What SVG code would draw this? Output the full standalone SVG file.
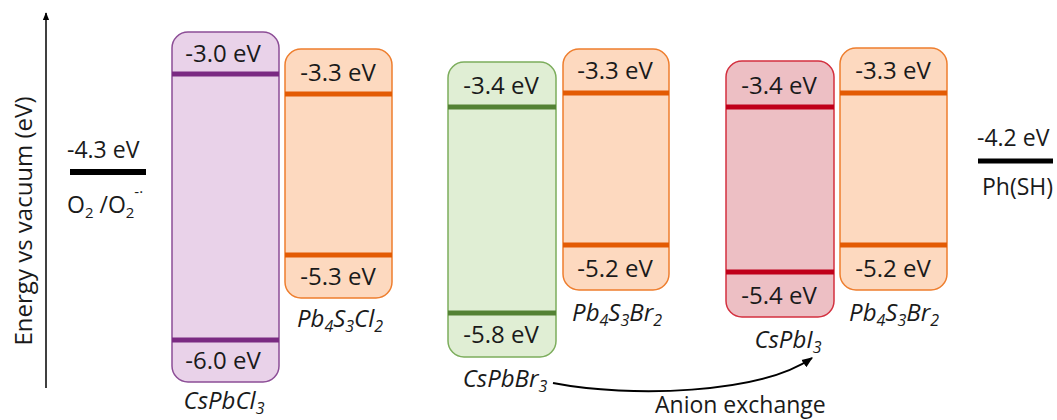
<svg xmlns="http://www.w3.org/2000/svg" width="1057" height="420" viewBox="0 0 1057 420">
  <defs>
    <marker id="arrowUp" viewBox="0 0 10 10" refX="9" refY="5" markerWidth="8" markerHeight="8" orient="auto" markerUnits="userSpaceOnUse">
      <path d="M0,1 L10,5 L0,9 Z" fill="#000"/>
    </marker>
    <marker id="arrowCurve" viewBox="0 0 10 10" refX="9" refY="5" markerWidth="11" markerHeight="11" orient="auto" markerUnits="userSpaceOnUse">
      <path d="M0,1 L10,5 L0,9 Z" fill="#000"/>
    </marker>
  </defs>
  <style>
    text { font-family: "Open Sans", "Liberation Sans", sans-serif; fill: #1a1a1a; }
    .ev { font-size: 24px; text-anchor: middle; }
    .name { font-size: 24px; font-style: italic; text-anchor: middle; }
    .ref { font-size: 23px; }
    .purple rect.box { fill: #e9d2e9; stroke: #8c4d96; }
    .orange rect.box { fill: #fdd9bf; stroke: #ee7e2e; }
    .green rect.box { fill: #e0eed4; stroke: #7cad5c; }
    .red rect.box { fill: #edbfc4; stroke: #d3303f; }
    rect.box { stroke-width: 1.5; }
    .purple line { stroke: #7a2a82; }
    .orange line { stroke: #e35b04; }
    .green line { stroke: #548235; }
    .red line { stroke: #c0001a; }
    .band line { stroke-width: 5; }
  </style>

  <!-- energy axis -->
  <g id="axis">
    <line x1="46" y1="388" x2="46" y2="13" stroke="#000" stroke-width="1.5" marker-end="url(#arrowUp)"/>
    <text transform="translate(32,221) rotate(-90)" text-anchor="middle" font-size="24">Energy vs vacuum (eV)</text>
  </g>

  <!-- O2 / O2- reference level -->
  <g id="o2-level">
    <text class="ref" x="67" y="158" font-size="24">-4.3 eV</text>
    <line x1="70" y1="172" x2="146" y2="172" stroke="#000" stroke-width="6"/>
    <text class="ref" x="67" y="213">O<tspan font-size="15" dy="5">2</tspan><tspan dy="-5"> /O</tspan><tspan font-size="15" dy="5">2</tspan><tspan font-size="15" dy="-21">-·</tspan></text>
  </g>

  <!-- CsPbCl3 -->
  <g id="cspbcl3" class="band purple">
    <rect class="box" x="172" y="32" width="107" height="350" rx="16"/>
    <line x1="172" y1="74" x2="279" y2="74"/>
    <line x1="172" y1="340" x2="279" y2="340"/>
    <text class="ev" x="223" y="62">-3.0 eV</text>
    <text class="ev" x="223" y="369">-6.0 eV</text>
    <text class="name" x="224" y="409">CsPbCl<tspan font-size="16" dy="5">3</tspan></text>
  </g>

  <!-- Pb4S3Cl2 -->
  <g id="pb4s3cl2" class="band orange">
    <rect class="box" x="285" y="49" width="107" height="249" rx="16"/>
    <line x1="285" y1="94" x2="392" y2="94"/>
    <line x1="285" y1="255" x2="392" y2="255"/>
    <text class="ev" x="338" y="81">-3.3 eV</text>
    <text class="ev" x="338" y="285">-5.3 eV</text>
    <text class="name" x="340" y="327">Pb<tspan font-size="16" dy="5">4</tspan><tspan dy="-5">S</tspan><tspan font-size="16" dy="5">3</tspan><tspan dy="-5">Cl</tspan><tspan font-size="16" dy="5">2</tspan></text>
  </g>

  <!-- CsPbBr3 -->
  <g id="cspbbr3" class="band green">
    <rect class="box" x="448" y="62" width="108" height="295" rx="16"/>
    <line x1="448" y1="107" x2="556" y2="107"/>
    <line x1="448" y1="313" x2="556" y2="313"/>
    <text class="ev" x="501" y="94">-3.4 eV</text>
    <text class="ev" x="501" y="343">-5.8 eV</text>
    <text class="name" x="505" y="387">CsPbBr<tspan font-size="16" dy="5">3</tspan></text>
  </g>

  <!-- Pb4S3Br2 (first) -->
  <g id="pb4s3br2-a" class="band orange">
    <rect class="box" x="563" y="49" width="106" height="241" rx="16"/>
    <line x1="563" y1="93" x2="669" y2="93"/>
    <line x1="563" y1="245" x2="669" y2="245"/>
    <text class="ev" x="615" y="79">-3.3 eV</text>
    <text class="ev" x="615" y="277">-5.2 eV</text>
    <text class="name" x="617" y="321">Pb<tspan font-size="16" dy="5">4</tspan><tspan dy="-5">S</tspan><tspan font-size="16" dy="5">3</tspan><tspan dy="-5">Br</tspan><tspan font-size="16" dy="5">2</tspan></text>
  </g>

  <!-- CsPbI3 -->
  <g id="cspbi3" class="band red">
    <rect class="box" x="726" y="61" width="108" height="256" rx="16"/>
    <line x1="726" y1="107" x2="834" y2="107"/>
    <line x1="726" y1="272" x2="834" y2="272"/>
    <text class="ev" x="779" y="94">-3.4 eV</text>
    <text class="ev" x="779" y="304">-5.4 eV</text>
    <text class="name" x="788" y="348">CsPbI<tspan font-size="16" dy="5">3</tspan></text>
  </g>

  <!-- Pb4S3Br2 (second) -->
  <g id="pb4s3br2-b" class="band orange">
    <rect class="box" x="840" y="48" width="107" height="242" rx="16"/>
    <line x1="840" y1="93" x2="947" y2="93"/>
    <line x1="840" y1="245" x2="947" y2="245"/>
    <text class="ev" x="893" y="79">-3.3 eV</text>
    <text class="ev" x="893" y="277">-5.2 eV</text>
    <text class="name" x="894" y="321">Pb<tspan font-size="16" dy="5">4</tspan><tspan dy="-5">S</tspan><tspan font-size="16" dy="5">3</tspan><tspan dy="-5">Br</tspan><tspan font-size="16" dy="5">2</tspan></text>
  </g>

  <!-- Ph(SH) reference level -->
  <g id="phsh-level">
    <text class="ref" x="977" y="146" font-size="24">-4.2 eV</text>
    <line x1="978" y1="161" x2="1053" y2="161" stroke="#000" stroke-width="5"/>
    <text class="ref" x="982" y="195">Ph(SH)</text>
  </g>

  <!-- anion exchange connector -->
  <g id="connectors">
    <path d="M553,383 C630,398 760,394 812,358" fill="none" stroke="#000" stroke-width="2" marker-end="url(#arrowCurve)"/>
    <text class="ref" x="655" y="413" font-size="24">Anion exchange</text>
  </g>
</svg>
